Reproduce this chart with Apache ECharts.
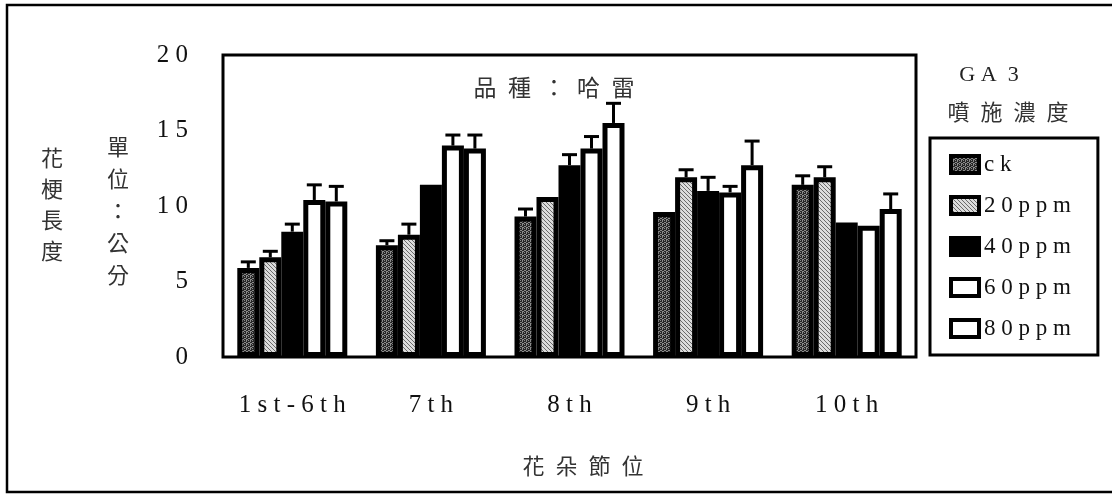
<!DOCTYPE html>
<html>
<head>
<meta charset="utf-8">
<script src="https://cdn.jsdelivr.net/npm/echarts@6/dist/echarts.min.js"></script>
<style>
  html, body { margin: 0; padding: 0; background: #fff; }
  #chart { width: 1112px; height: 495px; }
</style>
</head>
<body>
<div id="chart"></div>
<script>
// Flower position along the stalk
const categories = ['1st-6th', '7th', '8th', '9th', '10th'];
// GA3 treatments
const seriesNames = ['ck', '20ppm', '40ppm', '60ppm', '80ppm'];
// Mean stalk length (cm)
const ck    = [5.9, 7.4, 9.3, 9.6, 11.4];
const ppm20 = [6.6, 8.1, 10.6, 11.9, 11.9];
const ppm40 = [8.3, 11.4, 12.7, 11.0, 8.9];
const ppm60 = [10.4, 14.0, 13.8, 10.9, 8.7];
const ppm80 = [10.3, 13.8, 15.5, 12.7, 9.8];
// Upper error (cm)
const ckErr    = [0.4, 0.3, 0.5, 0, 0.6];
const ppm20Err = [0.4, 0.7, 0, 0.5, 0.7];
const ppm40Err = [0.5, 0, 0.7, 0.9, 0];
const ppm60Err = [1.0, 0.7, 0.8, 0.4, 0];
const ppm80Err = [1.0, 0.9, 1.3, 1.6, 1.0];
// Y axis ticks
const yTicks = [0, 5, 10, 15, 20];

const values = [ck, ppm20, ppm40, ppm60, ppm80];
const errors = [ckErr, ppm20Err, ppm40Err, ppm60Err, ppm80Err];

const BAR_W = 22;
const SERIF = '"Liberation Serif", "DejaVu Serif", serif';
const CJK = '"Noto Sans CJK TC", "Noto Sans CJK SC", sans-serif';
const spaced = s => String(s).split('').join(' ');

// small tiled fills: dark stipple and light diagonal hatch
function makePattern(base, dot, isDot) {
  const c = document.createElement('canvas');
  c.width = 4; c.height = 4;
  const ctx = c.getContext('2d');
  ctx.fillStyle = base;
  ctx.fillRect(0, 0, 4, 4);
  ctx.fillStyle = dot;
  for (let y = 0; y < 4; y++) {
    for (let x = 0; x < 4; x++) {
      const on = isDot ? ((x + 2 * y) % 4 === 0 || (x + 3 * y) % 5 === 2) : ((x - y + 4) % 4 === 0);
      if (on) ctx.fillRect(x, y, 1, 1);
    }
  }
  return c;
}
const stipple = makePattern('#262626', '#8a8a8a', true);
const hatch = makePattern('#dcdcdc', '#6a6a6a', false);

const fills = [
  { image: stipple, repeat: 'repeat' },
  { image: hatch, repeat: 'repeat' },
  '#000',
  '#fff',
  '#fff'
];

const barSeries = seriesNames.map((name, i) => ({
  name: name,
  type: 'bar',
  data: values[i],
  barWidth: BAR_W,
  barGap: '0%',
  itemStyle: { color: fills[i], borderColor: '#000', borderWidth: 5 },
  z: 2
}));

const errData = [];
errors.forEach((arr, s) => arr.forEach((e, c) => errData.push([c, values[s][c], e, s])));

const errSeries = {
  type: 'custom',
  name: 'err',
  data: errData,
  encode: { x: 0, y: 1 },
  z: 3,
  renderItem: function (params, api) {
    const c = api.value(0), v = api.value(1), e = api.value(2), s = api.value(3);
    if (!(e > 0)) return;
    const base = api.coord([c, v]);
    const top = api.coord([c, v + e]);
    const x = base[0] + (s - 2) * BAR_W;
    return {
      type: 'group',
      children: [
        { type: 'line', shape: { x1: x, y1: base[1], x2: x, y2: top[1] }, style: { stroke: '#000', lineWidth: 3 } },
        { type: 'line', shape: { x1: x - 7.5, y1: top[1], x2: x + 7.5, y2: top[1] }, style: { stroke: '#000', lineWidth: 3 } }
      ]
    };
  }
};

const chart = echarts.init(document.getElementById('chart'), null, { renderer: 'canvas' });
chart.setOption({
  backgroundColor: '#fff',
  animation: false,
  grid: {
    left: 223, right: 196, top: 55, bottom: 138,
    show: true, borderColor: '#000', borderWidth: 3, backgroundColor: 'transparent'
  },
  xAxis: {
    type: 'category',
    data: categories,
    axisLine: { show: false },
    axisTick: { show: false },
    axisLabel: {
      interval: 0,
      margin: 36, color: '#111', fontFamily: SERIF, fontSize: 25,
      formatter: v => spaced(v)
    }
  },
  yAxis: {
    type: 'value',
    min: yTicks[0], max: yTicks[yTicks.length - 1], interval: 5,
    axisLine: { show: false },
    axisTick: { show: false },
    splitLine: { show: false },
    axisLabel: {
      margin: 35, color: '#111', fontFamily: SERIF, fontSize: 25,
      formatter: v => spaced(v)
    }
  },
  legend: {
    data: seriesNames,
    orient: 'vertical',
    left: 930, top: 138,
    icon: 'rect',
    itemWidth: 28, itemHeight: 17, itemGap: 18,
    padding: [15, 27, 15, 19],
    borderColor: '#000', borderWidth: 3,
    itemStyle: { borderColor: '#000', borderWidth: 4 },
    textStyle: { fontFamily: SERIF, fontSize: 23, color: '#111', lineHeight: 20 },
    formatter: name => spaced(name),
    selectedMode: false
  },
  graphic: [
    { type: 'rect', shape: { x: 7, y: 5, width: 1118, height: 487 },
      style: { fill: null, stroke: '#000', lineWidth: 2.5 }, z: 10 },
    { type: 'text', x: 554, y: 87,
      style: { text: '品\u2002種\u2002：\u2002哈\u2002雷', font: '23px ' + CJK, fill: '#333',
        textAlign: 'center', textVerticalAlign: 'middle' } },
    { type: 'text', x: 989, y: 75,
      style: { text: 'G A  3', font: '22px ' + SERIF, fill: '#222',
        textAlign: 'center', textVerticalAlign: 'middle' } },
    { type: 'text', x: 1008, y: 112,
      style: { text: '噴\u2002施\u2002濃\u2002度', font: '22px ' + CJK, fill: '#333',
        textAlign: 'center', textVerticalAlign: 'middle' } },
    { type: 'text', x: 583, y: 466,
      style: { text: '花\u2002朵\u2002節\u2002位', font: '22px ' + CJK, fill: '#333',
        textAlign: 'center', textVerticalAlign: 'middle' } },
    { type: 'text', x: 52, y: 142,
      style: { text: '花\n梗\n長\n度', font: '22px ' + CJK, fill: '#333', lineHeight: 31,
        textAlign: 'center', textVerticalAlign: 'top' } },
    { type: 'text', x: 118, y: 131,
      style: { text: '單\n位\n：\n公\n分', font: '22px ' + CJK, fill: '#333', lineHeight: 32,
        textAlign: 'center', textVerticalAlign: 'top' } }
  ],
  series: barSeries.concat([errSeries])
});
</script>
</body>
</html>
